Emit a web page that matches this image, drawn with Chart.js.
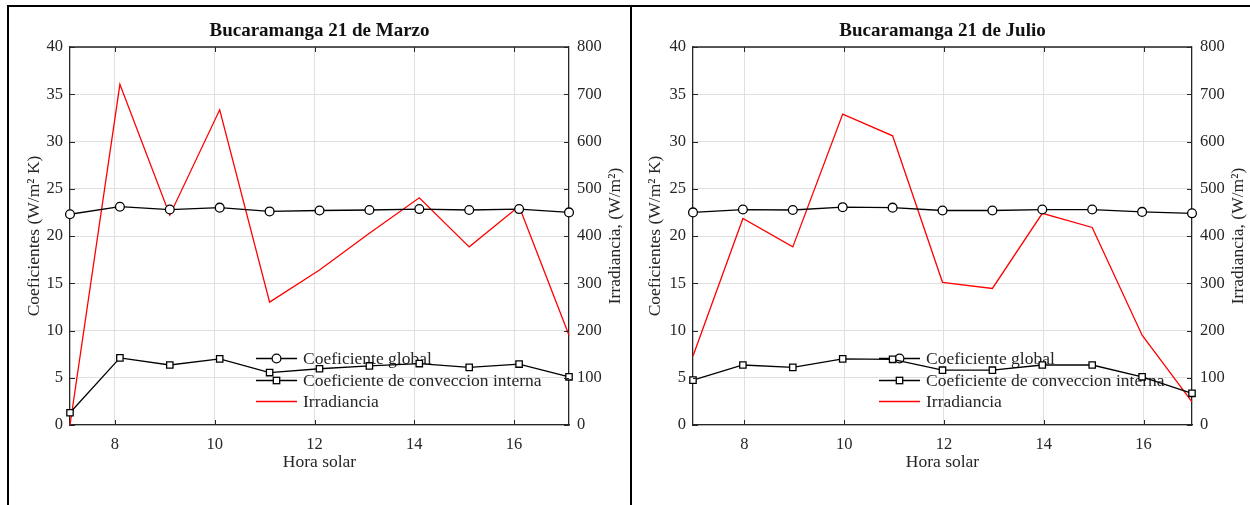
<!DOCTYPE html>
<html>
<head>
<meta charset="utf-8">
<script src="https://cdn.jsdelivr.net/npm/chart.js@4"></script>
<style>
  body { margin: 0; background: #fff; width: 1250px; height: 505px; overflow: hidden; position: relative; }
  .marco1 { position: absolute; left: 7px; top: 5px; width: 621px; height: 500px; border: 2px solid #000; border-bottom: none; }
  .marco2 { position: absolute; left: 630px; top: 5px; width: 620px; height: 500px; border-top: 2px solid #000; }
  canvas { position: absolute; top: 0; }
  #graficoMarzo { left: 0; }
  #graficoJulio { left: 632px; }
</style>
</head>
<body>
<div class="marco1"></div>
<div class="marco2"></div>
<canvas id="graficoMarzo" width="630" height="505"></canvas>
<canvas id="graficoJulio" width="618" height="505"></canvas>
<script>
// Hora solar de cada medicion
const horasMarzo = [7.1, 8.1, 9.1, 10.1, 11.1, 12.1, 13.1, 14.1, 15.1, 16.1, 17.1];
const horasJulio = [6.97, 7.97, 8.97, 9.97, 10.97, 11.97, 12.97, 13.97, 14.97, 15.97, 16.97];

// 21 de Marzo
const globalMarzo = [22.3, 23.1, 22.8, 23.0, 22.6, 22.7, 22.75, 22.85, 22.75, 22.85, 22.5];
const convMarzo = [1.3, 7.1, 6.35, 7.0, 5.55, 5.95, 6.25, 6.5, 6.1, 6.45, 5.1];
const irrMarzo = [0, 721, 444, 667, 260, 328, 406, 481, 377, 463, 190];

// 21 de Julio
const globalJulio = [22.5, 22.8, 22.75, 23.05, 23.0, 22.7, 22.7, 22.8, 22.8, 22.55, 22.4];
const convJulio = [4.75, 6.35, 6.1, 7.0, 6.95, 5.8, 5.8, 6.35, 6.35, 5.1, 3.35];
const irrJulio = [146, 437, 377, 658, 612, 302, 289, 448, 418, 190, 49];

// Marcas de los ejes
const ticksX = [8, 10, 12, 14, 16];
const ticksCoef = [0, 5, 10, 15, 20, 25, 30, 35, 40];
const ticksIrr = [0, 100, 200, 300, 400, 500, 600, 700, 800];

const etiquetas = ['Coeficiente global', 'Coeficiente de conveccion interna', 'Irradiancia'];

const fuente = "'Liberation Serif', 'Times New Roman', serif";
const gris = '#262626';
const tamTexto = 17.5;

function puntos(xs, ys) {
    return xs.map((x, i) => ({ x: x, y: ys[i] }));
}

// Dibuja marco superior, marcas hacia dentro, leyenda y titulo del eje derecho
const marco = {
    id: 'marco',
    beforeDatasetsDraw(chart) {
        const ctx = chart.ctx;
        const a = chart.chartArea;
        const filas = [a.bottom - 66.5, a.bottom - 44.5, a.bottom - 23.5];
        const x0 = a.left + 186, x1 = a.left + 227, xm = (x0 + x1) / 2;
        ctx.save();
        chart.data.datasets.forEach((ds, i) => {
            const y = filas[i];
            ctx.strokeStyle = ds.borderColor;
            ctx.lineWidth = ds.borderWidth;
            ctx.beginPath();
            ctx.moveTo(x0, y);
            ctx.lineTo(x1, y);
            ctx.stroke();
            if (ds.pointStyle === 'circle') {
                ctx.fillStyle = '#fff';
                ctx.beginPath();
                ctx.arc(xm, y, 4.4, 0, Math.PI * 2);
                ctx.fill();
                ctx.stroke();
            } else if (ds.pointStyle === 'rect') {
                ctx.fillStyle = '#fff';
                ctx.fillRect(xm - 3.2, y - 3.2, 6.4, 6.4);
                ctx.strokeRect(xm - 3.2, y - 3.2, 6.4, 6.4);
            }
            ctx.fillStyle = gris;
            ctx.font = tamTexto + 'px ' + fuente;
            ctx.textAlign = 'left';
            ctx.textBaseline = 'middle';
            ctx.fillText(ds.label, a.left + 233, y + 1);
        });
        ctx.restore();
    },
    afterDraw(chart) {
        const ctx = chart.ctx;
        const a = chart.chartArea;
        const sx = chart.scales.x, sy = chart.scales.y, sy1 = chart.scales.y1;
        ctx.save();
        ctx.strokeStyle = gris;
        ctx.lineWidth = 1.3;
        ctx.beginPath();
        ctx.moveTo(a.left, a.top);
        ctx.lineTo(a.right, a.top);
        ctx.stroke();
        ctx.lineWidth = 1;
        ctx.beginPath();
        ticksX.forEach(v => {
            const px = Math.round(sx.getPixelForValue(v)) + 0.5;
            ctx.moveTo(px, a.bottom); ctx.lineTo(px, a.bottom - 5);
            ctx.moveTo(px, a.top); ctx.lineTo(px, a.top + 5);
        });
        ticksCoef.forEach(v => {
            const py = Math.round(sy.getPixelForValue(v)) + 0.5;
            ctx.moveTo(a.left, py); ctx.lineTo(a.left + 5, py);
        });
        ticksIrr.forEach(v => {
            const py = Math.round(sy1.getPixelForValue(v)) + 0.5;
            ctx.moveTo(a.right, py); ctx.lineTo(a.right - 5, py);
        });
        ctx.stroke();
        // titulo del eje derecho, leido de abajo hacia arriba
        ctx.translate(a.right + 46.5, (a.top + a.bottom) / 2);
        ctx.rotate(-Math.PI / 2);
        ctx.fillStyle = gris;
        ctx.font = tamTexto + 'px ' + fuente;
        ctx.textAlign = 'center';
        ctx.textBaseline = 'middle';
        ctx.fillText('Irradiancia, (W/m²)', 0, 0);
        ctx.restore();
    }
};

function crearGrafico(id, titulo, horas, glob, conv, irr, anchoIzq, anchoDer, padTitulo) {
    const ctx = document.getElementById(id).getContext('2d');
    return new Chart(ctx, {
        type: 'line',
        data: {
            datasets: [{
                label: etiquetas[0],
                data: puntos(horas, glob),
                yAxisID: 'y',
                borderColor: '#000',
                borderWidth: 1.3,
                pointStyle: 'circle',
                pointRadius: 4.4,
                pointBorderWidth: 1.3,
                pointBorderColor: '#000',
                pointBackgroundColor: '#fff',
                clip: false
            }, {
                label: etiquetas[1],
                data: puntos(horas, conv),
                yAxisID: 'y',
                borderColor: '#000',
                borderWidth: 1.3,
                pointStyle: 'rect',
                pointRadius: 4.5,
                pointBorderWidth: 1.3,
                pointBorderColor: '#000',
                pointBackgroundColor: '#fff',
                clip: false
            }, {
                label: etiquetas[2],
                data: puntos(horas, irr),
                yAxisID: 'y1',
                borderColor: '#ff0000',
                borderWidth: 1.3,
                pointRadius: 0,
                clip: false
            }]
        },
        options: {
            responsive: false,
            animation: false,
            layout: { padding: 0 },
            plugins: {
                legend: { display: false },
                tooltip: { enabled: false },
                title: {
                    display: true,
                    text: titulo,
                    fullSize: false,
                    color: '#111',
                    font: { family: fuente, size: 19, weight: 'bold' },
                    padding: { top: 20, bottom: 4.2 }
                }
            },
            scales: {
                x: {
                    type: 'linear',
                    min: horas[0],
                    max: horas[horas.length - 1],
                    afterBuildTicks: s => { s.ticks = ticksX.map(v => ({ value: v })); },
                    afterFit: s => { s.height = 80; },
                    grid: { color: '#e0e0e0', drawTicks: false },
                    border: { color: gris, width: 1.3 },
                    ticks: { color: gris, padding: 10, font: { family: fuente, size: 16.5 } },
                    title: {
                        display: true,
                        text: 'Hora solar',
                        color: gris,
                        font: { family: fuente, size: tamTexto },
                        padding: { top: 0, bottom: 32 }
                    }
                },
                y: {
                    position: 'left',
                    min: 0,
                    max: 40,
                    afterBuildTicks: s => { s.ticks = ticksCoef.map(v => ({ value: v })); },
                    afterFit: s => { s.width = anchoIzq; },
                    grid: { color: '#e0e0e0', drawTicks: false },
                    border: { color: gris, width: 1.3 },
                    ticks: { color: gris, padding: 7, font: { family: fuente, size: 16.5 } },
                    title: {
                        display: true,
                        text: 'Coeficientes (W/m² K)',
                        color: gris,
                        font: { family: fuente, size: tamTexto },
                        padding: { top: padTitulo, bottom: 0 }
                    }
                },
                y1: {
                    position: 'right',
                    min: 0,
                    max: 800,
                    afterBuildTicks: s => { s.ticks = ticksIrr.map(v => ({ value: v })); },
                    afterFit: s => { s.width = anchoDer; },
                    grid: { display: false, drawTicks: false },
                    border: { color: gris, width: 1.3 },
                    ticks: { color: gris, padding: 8, font: { family: fuente, size: 16.5 } }
                }
            }
        },
        plugins: [marco]
    });
}

crearGrafico('graficoMarzo', 'Bucaramanga 21 de Marzo', horasMarzo, globalMarzo, convMarzo, irrMarzo, 70, 61, 23.5);
crearGrafico('graficoJulio', 'Bucaramanga 21 de Julio', horasJulio, globalJulio, convJulio, irrJulio, 61, 58, 12.5);
</script>
</body>
</html>
